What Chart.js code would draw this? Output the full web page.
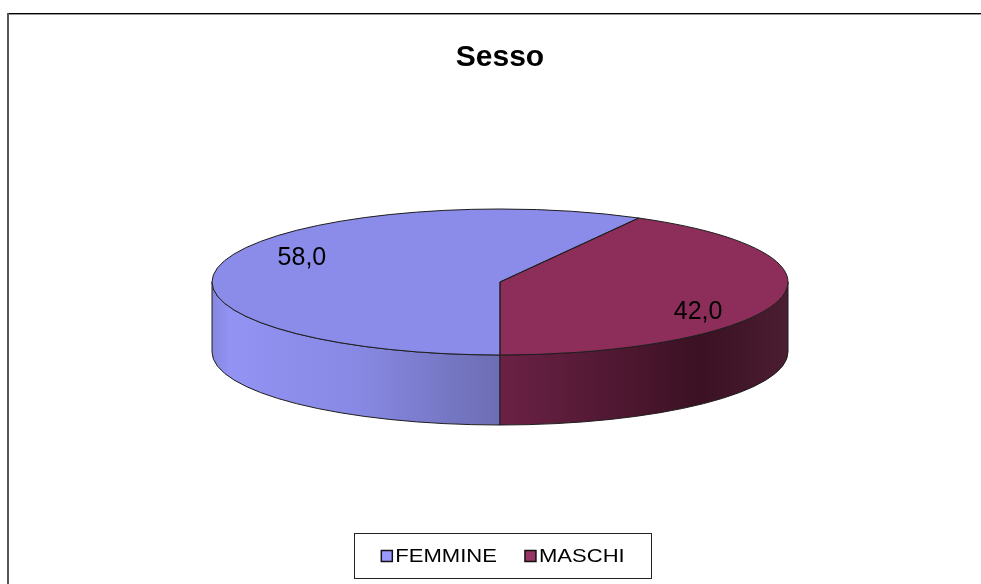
<!DOCTYPE html>
<html>
<head>
<meta charset="utf-8">
<script src="https://cdn.jsdelivr.net/npm/chart.js@4.4.0/dist/chart.umd.min.js"></script>
<style>
  html, body { margin: 0; padding: 0; background: #fff; }
  canvas { display: block; }
</style>
</head>
<body>
<canvas id="chartCanvas" width="981" height="584"></canvas>
<script>
const categories = ["FEMMINE", "MASCHI"];
const values = [58.0, 42.0];
const topColors = ["#8b8cea", "#8c2d5a"];
const legendColors = ["#9999ff", "#993366"];
const sideStops = [
  [[0, "#8586de"], [0.03, "#9293f3"], [0.25, "#8889e4"], [0.5, "#6c6db2"]],
  [[0.5, "#6b2145"], [0.85, "#3b1123"], [1, "#4b1d31"]]
];

// 3D look: where the flattened pie sits on the page
const view = { cx: 500, cy: 282, rx: 288, ry: 73, depth: 70 };
const fontFamily = "'Liberation Sans', Arial, sans-serif";

function wallPath(ctx, a0, a1) {
  ctx.beginPath();
  ctx.ellipse(view.cx, view.cy, view.rx, view.ry, 0, a0, a1, false);
  ctx.ellipse(view.cx, view.cy + view.depth, view.rx, view.ry, 0, a1, a0, true);
  ctx.closePath();
}

function frontRanges(s, e) {
  const out = [];
  const T = Math.PI * 2;
  for (let k = Math.floor(s / T) - 1; k <= Math.floor(e / T) + 1; k++) {
    const lo = Math.max(s, T * k), hi = Math.min(e, T * k + Math.PI);
    if (hi > lo) out.push([lo, hi]);
  }
  return out;
}

const frame = {
  id: "frame",
  beforeDraw(chart) {
    const ctx = chart.ctx;
    ctx.save();
    ctx.fillStyle = "#fff";
    ctx.fillRect(0, 0, chart.width, chart.height);
    ctx.fillStyle = "#000";
    ctx.fillRect(7, 13, chart.width - 7, 1);
    ctx.fillStyle = "#9a9a9a";
    ctx.fillRect(7, 14, chart.width - 7, 1);
    ctx.fillStyle = "#555";
    ctx.fillRect(7, 13, 2, chart.height - 13);
    ctx.restore();
  }
};

const pie3d = {
  id: "pie3d",
  beforeDatasetsDraw(chart) {
    const ctx = chart.ctx;
    const arcs = chart.getDatasetMeta(0).data;
    ctx.save();
    arcs.forEach((arc, i) => {
      const g = ctx.createLinearGradient(view.cx - view.rx, 0, view.cx + view.rx, 0);
      sideStops[i].forEach(s => g.addColorStop(s[0], s[1]));
      frontRanges(arc.startAngle, arc.endAngle).forEach(r => {
        wallPath(ctx, r[0], r[1]);
        ctx.fillStyle = g;
        ctx.fill();
        ctx.strokeStyle = "#1e1e1e";
        ctx.lineWidth = 1;
        ctx.stroke();
      });
    });
    ctx.restore();
    // squash the library's round pie into the top face
    const R = arcs[0].outerRadius;
    ctx.save();
    ctx.translate(view.cx, view.cy);
    ctx.scale(view.rx / R, view.ry / R);
    ctx.translate(-arcs[0].x, -arcs[0].y);
  },
  afterDatasetsDraw(chart) {
    const ctx = chart.ctx;
    ctx.restore();
    const arcs = chart.getDatasetMeta(0).data;
    ctx.save();
    ctx.strokeStyle = "#1e1e1e";
    ctx.lineWidth = 1;
    arcs.forEach(arc => {
      ctx.beginPath();
      ctx.moveTo(view.cx, view.cy);
      ctx.ellipse(view.cx, view.cy, view.rx, view.ry, 0, arc.startAngle, arc.endAngle, false);
      ctx.closePath();
      ctx.stroke();
    });
    ctx.fillStyle = "#000";
    ctx.font = "25px " + fontFamily;
    ctx.textAlign = "center";
    ctx.textBaseline = "middle";
    arcs.forEach((arc, i) => {
      const mid = (arc.startAngle + arc.endAngle) / 2;
      const x = view.cx + view.rx * 0.71 * Math.cos(mid);
      const y = view.cy + view.ry * 1.5 * Math.sin(mid) + 3;
      ctx.fillText(values[i].toFixed(1).replace(".", ","), x, y);
    });
    ctx.restore();
  }
};

const boxLegend = {
  id: "boxLegend",
  afterDraw(chart) {
    const ctx = chart.ctx;
    const stretch = 1.16, box = 11, gap = 3, itemGap = 28, cy = 556;
    ctx.save();
    ctx.font = "19px " + fontFamily;
    ctx.textBaseline = "middle";
    const widths = categories.map(c => ctx.measureText(c).width * stretch);
    const total = widths.reduce((a, w) => a + box + gap + w, 0) + itemGap * (categories.length - 1);
    let x = 503 - total / 2;
    ctx.strokeStyle = "#222";
    ctx.lineWidth = 1;
    ctx.strokeRect(Math.round(x - 27) + 0.5, 533.5, Math.round(total + 54), 45);
    categories.forEach((c, i) => {
      ctx.fillStyle = legendColors[i];
      ctx.fillRect(x, cy - box / 2, box, box);
      ctx.strokeStyle = "#111";
      ctx.lineWidth = 1.5;
      ctx.strokeRect(x, cy - box / 2, box, box);
      ctx.save();
      ctx.translate(x + box + gap, cy);
      ctx.scale(stretch, 1);
      ctx.fillStyle = "#000";
      ctx.fillText(c, 0, 1);
      ctx.restore();
      x += box + gap + widths[i] + itemGap;
    });
    ctx.restore();
  }
};

new Chart(document.getElementById("chartCanvas"), {
  type: "pie",
  data: {
    labels: categories,
    datasets: [{
      data: values,
      backgroundColor: topColors,
      borderWidth: 0
    }]
  },
  options: {
    responsive: false,
    animation: false,
    devicePixelRatio: 1,
    events: [],
    rotation: 180,
    layout: { padding: { left: 19, bottom: 70 } },
    plugins: {
      legend: { display: false },
      tooltip: { enabled: false },
      title: {
        display: true,
        text: "Sesso",
        color: "#000",
        font: { family: fontFamily, size: 30, weight: "bold" },
        padding: { top: 40, bottom: 10 }
      }
    }
  },
  plugins: [frame, pie3d, boxLegend]
});
</script>
</body>
</html>
